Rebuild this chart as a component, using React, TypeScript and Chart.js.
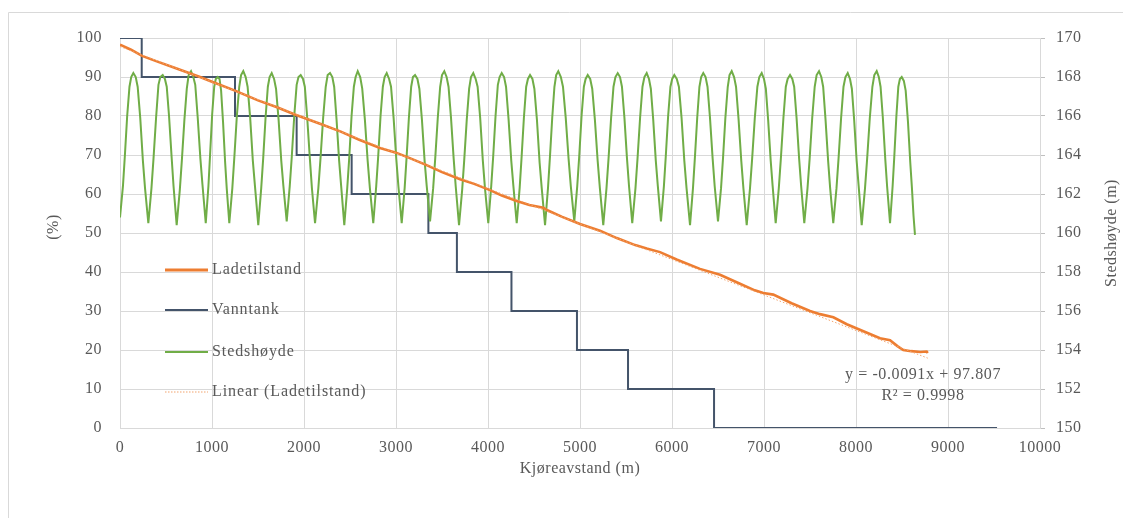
import React, { useEffect, useRef } from "react";
import { Chart, registerables } from "chart.js";

Chart.register(...registerables);

// Ladetilstand (%) along the driving distance (m)
const chargeLevel: [number, number][] = [
  [0, 98.3], [120, 97.0], [240, 95.4], [400, 94.0], [600, 92.3], [870, 90.0],
  [1000, 88.8], [1250, 86.5], [1500, 84.0], [1700, 82.3], [1900, 80.4], [2174, 78.0],
  [2400, 76.0], [2600, 73.9], [2826, 71.8], [3000, 70.6], [3150, 69.2], [3333, 67.4],
  [3500, 65.6], [3696, 63.8], [3850, 62.6], [4022, 61.0], [4150, 59.6], [4312, 58.2],
  [4450, 57.2], [4601, 56.5], [4640, 55.9], [4800, 54.2], [5000, 52.3], [5217, 50.6],
  [5400, 48.7], [5600, 46.9], [5725, 46.0], [5870, 45.1], [6050, 43.2], [6304, 40.8],
  [6522, 39.3], [6739, 37.0], [6900, 35.3], [6993, 34.6], [7101, 34.2], [7300, 32.0],
  [7500, 30.0], [7609, 29.2], [7754, 28.4], [7900, 26.6], [8100, 24.6], [8261, 23.0],
  [8370, 22.5], [8450, 21.0], [8514, 20.0], [8600, 19.7], [8700, 19.5], [8768, 19.6],
  [8780, 19.2],
];

// Vanntank (%) — each level holds until the next distance
const tankDistance = [0, 236, 1250, 1920, 2518, 3352, 3662, 4255, 4967, 5522, 6457, 9533];
const tankLevel = [100, 90, 80, 70, 60, 50, 40, 30, 20, 10, 0, 0];

// Stedshøyde (m) along the driving distance (m)
const elevation: [number, number][] = [
  [0, 160.8],
  [32, 162.4], [52, 163.9], [78, 166.0], [103, 167.5], [122, 168.0], [145, 168.2],
  [171, 168.0], [192, 167.5], [220, 165.9], [249, 163.7], [272, 162.3], [308, 160.5],
  [342, 162.3], [364, 163.8], [392, 165.9], [418, 167.6], [438, 168.0], [464, 168.1],
  [488, 167.9], [508, 167.5], [533, 166.0], [561, 163.9], [582, 162.4], [616, 160.4],
  [650, 162.2], [672, 163.7], [700, 165.8], [726, 167.4], [746, 168.1], [772, 168.3],
  [797, 168.0], [818, 167.6], [845, 165.9], [874, 163.8], [896, 162.5], [932, 160.5],
  [961, 162.4], [979, 164.0], [1002, 166.1], [1024, 167.5], [1041, 167.9], [1062, 168.0],
  [1082, 167.9], [1099, 167.3], [1120, 165.7], [1143, 163.6], [1160, 162.3], [1188, 160.5],
  [1221, 162.3], [1243, 163.9], [1270, 166.0], [1296, 167.5], [1316, 168.1], [1340, 168.3],
  [1366, 168.0], [1387, 167.5], [1415, 165.9], [1444, 163.7], [1467, 162.4], [1503, 160.4],
  [1535, 162.3], [1556, 163.8], [1582, 165.9], [1607, 167.5], [1626, 168.0], [1649, 168.2],
  [1675, 167.9], [1696, 167.4], [1724, 165.8], [1753, 163.7], [1776, 162.4], [1812, 160.6],
  [1845, 162.4], [1867, 163.9], [1894, 166.0], [1920, 167.6], [1940, 168.0], [1964, 168.1],
  [1989, 167.9], [2009, 167.5], [2035, 165.9], [2064, 163.8], [2086, 162.3], [2120, 160.5],
  [2156, 162.3], [2179, 163.8], [2208, 165.9], [2236, 167.5], [2257, 168.1], [2283, 168.2],
  [2308, 168.0], [2328, 167.5], [2354, 165.8], [2382, 163.7], [2404, 162.4], [2438, 160.4],
  [2470, 162.3], [2491, 163.8], [2517, 166.0], [2542, 167.5], [2561, 168.0], [2584, 168.3],
  [2611, 168.0], [2633, 167.4], [2662, 165.8], [2692, 163.7], [2716, 162.3], [2753, 160.5],
  [2785, 162.4], [2806, 163.9], [2832, 166.0], [2857, 167.5], [2876, 168.0], [2899, 168.2],
  [2925, 167.9], [2946, 167.5], [2974, 165.9], [3003, 163.8], [3026, 162.4], [3062, 160.5],
  [3094, 162.3], [3114, 163.8], [3140, 165.9], [3165, 167.5], [3184, 168.0], [3207, 168.1],
  [3233, 167.9], [3254, 167.4], [3282, 165.8], [3311, 163.7], [3334, 162.4], [3370, 160.6],
  [3404, 162.3], [3426, 163.8], [3454, 165.9], [3480, 167.5], [3500, 168.1], [3525, 168.3],
  [3550, 168.0], [3571, 167.5], [3598, 165.9], [3627, 163.8], [3649, 162.4], [3685, 160.4],
  [3719, 162.2], [3741, 163.7], [3769, 165.8], [3795, 167.4], [3815, 168.0], [3840, 168.2],
  [3866, 167.9], [3887, 167.5], [3915, 165.9], [3944, 163.7], [3967, 162.3], [4003, 160.5],
  [4035, 162.4], [4056, 163.9], [4082, 166.0], [4107, 167.6], [4126, 168.0], [4149, 168.2],
  [4175, 168.0], [4196, 167.5], [4224, 165.8], [4253, 163.7], [4276, 162.4], [4312, 160.5],
  [4344, 162.3], [4364, 163.8], [4390, 165.9], [4415, 167.5], [4434, 167.9], [4457, 168.1],
  [4483, 167.9], [4504, 167.4], [4532, 165.8], [4561, 163.6], [4584, 162.3], [4620, 160.4],
  [4652, 162.3], [4672, 163.8], [4698, 165.9], [4722, 167.5], [4741, 168.1], [4764, 168.3],
  [4792, 168.0], [4815, 167.5], [4845, 165.9], [4876, 163.8], [4900, 162.4], [4938, 160.6],
  [4970, 162.4], [4991, 163.9], [5017, 166.0], [5042, 167.5], [5061, 167.9], [5084, 168.1],
  [5111, 167.9], [5133, 167.4], [5162, 165.8], [5192, 163.7], [5216, 162.3], [5253, 160.4],
  [5288, 162.3], [5310, 163.8], [5338, 165.9], [5364, 167.5], [5385, 168.0], [5410, 168.2],
  [5435, 168.0], [5456, 167.5], [5483, 165.9], [5511, 163.8], [5533, 162.4], [5568, 160.5],
  [5603, 162.3], [5625, 163.8], [5653, 165.9], [5679, 167.5], [5700, 168.0], [5725, 168.2],
  [5750, 167.9], [5770, 167.4], [5796, 165.8], [5824, 163.7], [5846, 162.4], [5880, 160.6],
  [5912, 162.4], [5932, 163.9], [5958, 166.0], [5983, 167.5], [6002, 167.9], [6025, 168.1],
  [6052, 167.9], [6075, 167.5], [6104, 165.9], [6134, 163.7], [6158, 162.3], [6196, 160.4],
  [6228, 162.3], [6248, 163.8], [6274, 165.9], [6298, 167.5], [6317, 168.0], [6340, 168.2],
  [6365, 168.0], [6386, 167.5], [6413, 165.9], [6442, 163.8], [6464, 162.4], [6500, 160.6],
  [6533, 162.3], [6554, 163.8], [6580, 165.9], [6606, 167.5], [6625, 168.1], [6649, 168.3],
  [6675, 168.0], [6696, 167.5], [6724, 165.8], [6753, 163.7], [6776, 162.3], [6812, 160.4],
  [6848, 162.3], [6871, 163.8], [6900, 165.9], [6928, 167.5], [6949, 168.0], [6975, 168.2],
  [7000, 167.9], [7020, 167.4], [7045, 165.8], [7073, 163.7], [7094, 162.4], [7127, 160.5],
  [7161, 162.3], [7183, 163.8], [7211, 165.9], [7237, 167.5], [7257, 167.9], [7283, 168.1],
  [7308, 167.9], [7328, 167.5], [7354, 165.9], [7382, 163.8], [7404, 162.4], [7438, 160.5],
  [7473, 162.3], [7496, 163.8], [7524, 165.9], [7551, 167.5], [7572, 168.1], [7598, 168.3],
  [7623, 168.0], [7643, 167.5], [7669, 165.8], [7697, 163.7], [7719, 162.3], [7753, 160.5],
  [7788, 162.3], [7810, 163.8], [7838, 165.9], [7864, 167.5], [7885, 168.0], [7910, 168.2],
  [7935, 167.9], [7955, 167.4], [7980, 165.8], [8007, 163.7], [8029, 162.4], [8062, 160.4],
  [8098, 162.3], [8121, 163.8], [8150, 165.9], [8178, 167.5], [8199, 168.1], [8225, 168.3],
  [8248, 168.0], [8267, 167.5], [8292, 165.9], [8318, 163.8], [8338, 162.4], [8370, 160.5],
  [8398, 162.4], [8416, 163.9], [8439, 166.0], [8460, 167.5], [8477, 167.9], [8497, 168.0],
  [8520, 167.8], [8540, 167.3], [8565, 165.7], [8590, 163.6], [8608, 162.3], [8625, 160.9],
  [8641, 159.9],
];

// Linear trend of Ladetilstand
const trendSlope = -0.0091;
const trendIntercept = 97.807;
const trendR2 = 0.9998;
const trendRange = [0, 8780];

const seriesNames = ["Ladetilstand", "Vanntank", "Stedshøyde", "Linear (Ladetilstand)"];
const axisTitles = { x: "Kjøreavstand (m)", left: "(%)", right: "Stedshøyde (m)" };

const COLORS = {
  charge: "#ED7D31",
  tank: "#44546A",
  elevation: "#70AD47",
  trend: "#F2A46E",
  text: "#595959",
  grid: "#D9D9D9",
};
const FONT = "'Liberation Serif', 'Times New Roman', serif";

const decorPlugin = {
  id: "decor",
  beforeDraw(chart: any) {
    const ctx = chart.ctx as CanvasRenderingContext2D;
    (ctx as any).letterSpacing = "0.5px";
    ctx.save();
    ctx.strokeStyle = COLORS.grid;
    ctx.lineWidth = 1;
    ctx.beginPath();
    ctx.moveTo(0.5, chart.height);
    ctx.lineTo(0.5, 4.5);
    ctx.lineTo(chart.width, 4.5);
    ctx.stroke();
    ctx.restore();
  },
  afterDraw(chart: any) {
    const ctx = chart.ctx as CanvasRenderingContext2D;
    const area = chart.chartArea;
    const midY = (area.top + area.bottom) / 2;
    ctx.save();
    ctx.fillStyle = COLORS.text;
    ctx.font = `16px ${FONT}`;
    ctx.textBaseline = "middle";

    // axis titles
    ctx.textAlign = "center";
    (ctx as any).letterSpacing = "0.5px";
    ctx.fillText(axisTitles.x, (area.left + area.right) / 2, area.bottom + 41);
    ctx.save();
    ctx.translate(area.left - 66, midY - 6);
    ctx.rotate(-Math.PI / 2);
    ctx.fillText(axisTitles.left, 0, 0);
    ctx.restore();
    ctx.save();
    ctx.translate(area.right + 72, midY);
    ctx.rotate(-Math.PI / 2);
    ctx.fillText(axisTitles.right, 0, 0);
    ctx.restore();

    // legend inside the plot
    const items = [
      { color: COLORS.charge, width: 3, dash: [] as number[] },
      { color: COLORS.tank, width: 2, dash: [] as number[] },
      { color: COLORS.elevation, width: 2, dash: [] as number[] },
      { color: COLORS.trend, width: 1.2, dash: [1.5, 1.5] },
    ];
    const rowY = [232, 272, 314, 354];
    (ctx as any).letterSpacing = "0.9px";
    items.forEach((it, i) => {
      const y = area.top + rowY[i];
      ctx.save();
      ctx.strokeStyle = it.color;
      ctx.lineWidth = it.width;
      ctx.setLineDash(it.dash);
      ctx.beginPath();
      ctx.moveTo(area.left + 45, y);
      ctx.lineTo(area.left + 88, y);
      ctx.stroke();
      ctx.restore();
      ctx.textAlign = "left";
      ctx.fillText(seriesNames[i], area.left + 92, y);
    });

    // trendline equation
    (ctx as any).letterSpacing = "0.6px";
    ctx.textAlign = "center";
    ctx.fillText(`y = ${trendSlope}x + ${trendIntercept}`, area.left + 803, area.top + 337);
    ctx.fillText(`R² = ${trendR2}`, area.left + 803, area.top + 358);
    ctx.restore();
  },
};

export default function App() {
  const canvasRef = useRef<HTMLCanvasElement | null>(null);

  useEffect(() => {
    if (!canvasRef.current) return;
    const tickFont = { family: FONT, size: 16 };
    const plain = (v: any) => String(v);

    const chart = new Chart(canvasRef.current, {
      type: "line",
      data: {
        datasets: [
          {
            label: seriesNames[3],
            data: trendRange.map((x) => ({ x, y: trendSlope * x + trendIntercept })),
            borderColor: COLORS.trend,
            borderWidth: 1,
            borderDash: [1.5, 2],
            pointRadius: 0,
            yAxisID: "y",
            order: 0,
          },
          {
            label: seriesNames[0],
            data: chargeLevel.map(([x, y]) => ({ x, y })),
            borderColor: COLORS.charge,
            borderWidth: 2.6,
            pointRadius: 0,
            tension: 0,
            yAxisID: "y",
            order: 1,
          },
          {
            label: seriesNames[2],
            data: elevation.map(([x, y]) => ({ x, y })),
            borderColor: COLORS.elevation,
            borderWidth: 2,
            pointRadius: 0,
            tension: 0,
            yAxisID: "y2",
            order: 2,
          },
          {
            label: seriesNames[1],
            data: tankDistance.map((x, i) => ({ x, y: tankLevel[i] })),
            borderColor: COLORS.tank,
            borderWidth: 2,
            pointRadius: 0,
            stepped: "before",
            yAxisID: "y",
            order: 3,
          },
        ],
      },
      options: {
        animation: false,
        responsive: false,
        events: [],
        layout: { padding: { top: 30, left: 0, right: 0, bottom: 0 } },
        plugins: { legend: { display: false }, tooltip: { enabled: false } },
        scales: {
          x: {
            type: "linear",
            min: 0,
            max: 10000,
            afterFit: (s: any) => { s.height = 90; },
            ticks: { stepSize: 1000, font: tickFont, color: COLORS.text, padding: 10, callback: plain, maxRotation: 0 },
            grid: { color: COLORS.grid, drawTicks: false },
            border: { color: COLORS.grid },
          },
          y: {
            position: "left",
            min: 0,
            max: 100,
            afterFit: (s: any) => { s.width = 112; },
            ticks: { stepSize: 10, font: tickFont, color: COLORS.text, padding: 18, callback: plain },
            grid: { color: COLORS.grid, drawTicks: false },
            border: { color: COLORS.grid },
          },
          y2: {
            position: "right",
            min: 150,
            max: 170,
            afterFit: (s: any) => { s.width = 91; },
            ticks: { stepSize: 2, font: tickFont, color: COLORS.text, padding: 11, callback: plain },
            grid: { drawOnChartArea: false, color: "#BFBFBF", tickLength: 5 },
            border: { color: COLORS.grid },
          },
        },
      },
      plugins: [decorPlugin],
    } as any);

    return () => chart.destroy();
  }, []);

  return (
    <div style={{ width: 1123, height: 510 }}>
      <canvas ref={canvasRef} width={1123} height={510} style={{ display: "block" }} />
    </div>
  );
}
